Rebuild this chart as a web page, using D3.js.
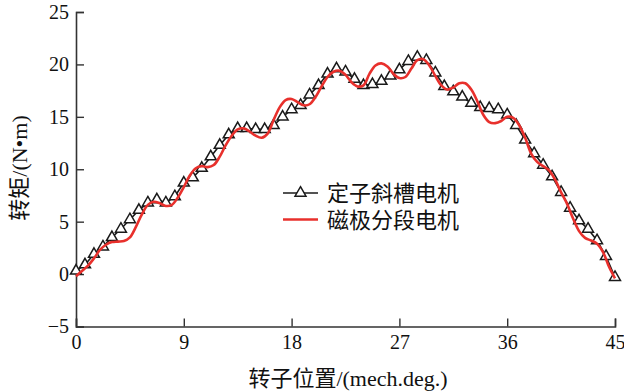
<!DOCTYPE html>
<html><head><meta charset="utf-8">
<script src="https://cdn.jsdelivr.net/npm/d3@7"></script>
<style>body{margin:0;background:#fff}svg{display:block}</style>
</head><body>
<svg id="c" width="624" height="392"></svg>
<script>
const xTicks = [0, 9, 18, 27, 36, 45];
const yTicks = [-5, 0, 5, 10, 15, 20, 25];
const seriesNames = ["定子斜槽电机", "磁极分段电机"];
const xTitle = "转子位置/(mech.deg.)";
const yTitle = "转矩/(N•m)";

// Black series (stator skew), sampled every 0.75 deg
const skewX = [0,0.75,1.5,2.25,3,3.75,4.5,5.25,6,6.75,7.5,8.25,9,9.75,10.5,11.25,12,12.75,13.5,14.25,15,15.75,16.5,17.25,18,18.75,19.5,20.25,21,21.75,22.5,23.25,24,24.75,25.5,26.25,27,27.75,28.5,29.25,30,30.75,31.5,32.25,33,33.75,34.5,35.25,36,36.75,37.5,38.25,39,39.75,40.5,41.25,42,42.75,43.5,44.25,45];
const skewY = [0.3,0.9,1.9,2.6,3.5,4.3,5.2,6.1,6.8,7.1,6.8,7.4,8.7,9.2,10.1,11.2,12.3,13.3,13.9,13.9,13.8,13.8,14.2,15.0,15.7,16.1,17.1,18.0,19.1,19.6,19.3,18.6,18.0,18.1,18.4,18.9,19.5,20.3,20.7,20.4,19.2,17.9,17.4,16.9,16.3,15.9,15.8,15.7,15.2,14.2,12.8,11.5,10.4,9.3,7.8,6.3,5.1,4.3,3.2,1.7,-0.3];

// Red series (pole segmented), sampled every 0.5 deg
const segX = [0,0.5,1,1.5,2,2.5,3,3.5,4,4.5,5,5.5,6,6.5,7,7.5,8,8.5,9,9.5,10,10.5,11,11.5,12,12.5,13,13.5,14,14.5,15,15.5,16,16.5,17,17.5,18,18.5,19,19.5,20,20.5,21,21.5,22,22.5,23,23.5,24,24.5,25,25.5,26,26.5,27,27.5,28,28.5,29,29.5,30,30.5,31,31.5,32,32.5,33,33.5,34,34.5,35,35.5,36,36.5,37,37.5,38,38.5,39,39.5,40,40.5,41,41.5,42,42.5,43,43.5,44,44.5,45];
const segY = [-0.2,0.3,0.8,1.5,2.3,2.8,3.05,3.1,3.15,3.5,4.5,5.7,6.6,6.9,6.75,6.5,6.6,7.3,8.3,9.4,10.1,10.3,10.2,10.4,11.2,12.3,13.2,13.8,13.9,13.6,13.2,13.0,13.4,14.7,15.9,16.6,16.7,16.4,16.1,16.2,16.9,17.9,18.8,19.3,19.4,19.0,18.3,17.9,18.0,19.1,19.9,20.1,19.8,19.1,18.7,18.8,19.6,20.4,20.5,19.9,18.9,18.0,17.6,17.8,18.2,18.2,17.6,16.5,15.2,14.5,14.4,14.6,15.0,14.9,14.2,13.0,11.5,10.7,10.3,9.9,9.0,7.8,6.7,5.3,4.1,3.45,3.2,2.9,2.1,0.7,-0.4];

const svg = d3.select("#c");
const x = d3.scaleLinear().domain([0, 45]).range([76, 615]);
const y = d3.scaleLinear().domain([-5, 25]).range([326.5, 12]);
const axisColor = "#333";
const serif = "'Liberation Serif','Times New Roman',serif";
const cjk = "'Liberation Serif','Noto Sans CJK SC',serif";

// axes
const gx = svg.append("g").attr("transform", `translate(0,${y(-5)})`)
  .call(d3.axisBottom(x).tickValues(xTicks).tickSize(-8).tickPadding(5).tickFormat(d3.format("d")));
const gy = svg.append("g").attr("transform", `translate(${x(0)},0)`)
  .call(d3.axisLeft(y).tickValues(yTicks).tickSize(-8).tickPadding(6).tickFormat(d => d < 0 ? "\u2212" + Math.abs(d) : d));
[gx, gy].forEach(g => {
  g.select(".domain").attr("stroke", axisColor).attr("stroke-width", 1.6);
  g.selectAll(".tick line").attr("stroke", axisColor).attr("stroke-width", 1.4);
  g.selectAll(".tick text").attr("fill", "#111").style("font-family", serif).style("font-size", "20px");
});
gx.selectAll(".tick text").attr("dy", "0.85em");
gy.selectAll(".tick text").attr("dx", "-1");

// black series
const skew = skewX.map((d, i) => [d, skewY[i]]);
const seg = segX.map((d, i) => [d, segY[i]]);
const line = d3.line().x(d => x(d[0])).y(d => y(d[1]));
svg.append("path").datum(skew).attr("d", line).attr("fill", "none").attr("stroke", "#1a1a1a").attr("stroke-width", 1.6);
const tri = d3.symbol().type(d3.symbolTriangle).size(52);
svg.append("g").selectAll("path").data(skew).join("path")
  .attr("d", tri).attr("transform", d => `translate(${x(d[0])},${y(d[1])})`)
  .attr("fill", "#fff").attr("stroke", "#1a1a1a").attr("stroke-width", 1.5);

// red series
const smooth = d3.line().x(d => x(d[0])).y(d => y(d[1])).curve(d3.curveCatmullRom.alpha(0.5));
svg.append("path").datum(seg).attr("d", smooth).attr("fill", "none").attr("stroke", "#e8302c").attr("stroke-width", 2.6);

// legend
const lg = svg.append("g");
lg.append("line").attr("x1", 283).attr("x2", 318).attr("y1", 193).attr("y2", 193).attr("stroke", "#1a1a1a").attr("stroke-width", 1.6);
lg.append("path").attr("d", tri).attr("transform", "translate(300.5,193)").attr("fill", "#fff").attr("stroke", "#1a1a1a").attr("stroke-width", 1.5);
lg.append("line").attr("x1", 283).attr("x2", 318).attr("y1", 219.5).attr("y2", 219.5).attr("stroke", "#e8302c").attr("stroke-width", 2.6);
lg.selectAll("text").data(seriesNames).join("text")
  .attr("x", 327).attr("y", (d, i) => 193 + i * 27).attr("dy", "0.35em")
  .style("font-family", cjk).style("font-size", "22px").attr("fill", "#111").text(d => d);

// titles
svg.append("text").attr("x", 348).attr("y", 378).attr("text-anchor", "middle").attr("dy", "0.35em")
  .style("font-family", cjk).style("font-size", "22px").attr("fill", "#111").text(xTitle);
svg.append("text").attr("transform", "translate(19,168) rotate(-90)").attr("text-anchor", "middle").attr("dy", "0.35em")
  .style("font-family", cjk).style("font-size", "22px").attr("fill", "#111").text(yTitle);
</script>
</body></html>
